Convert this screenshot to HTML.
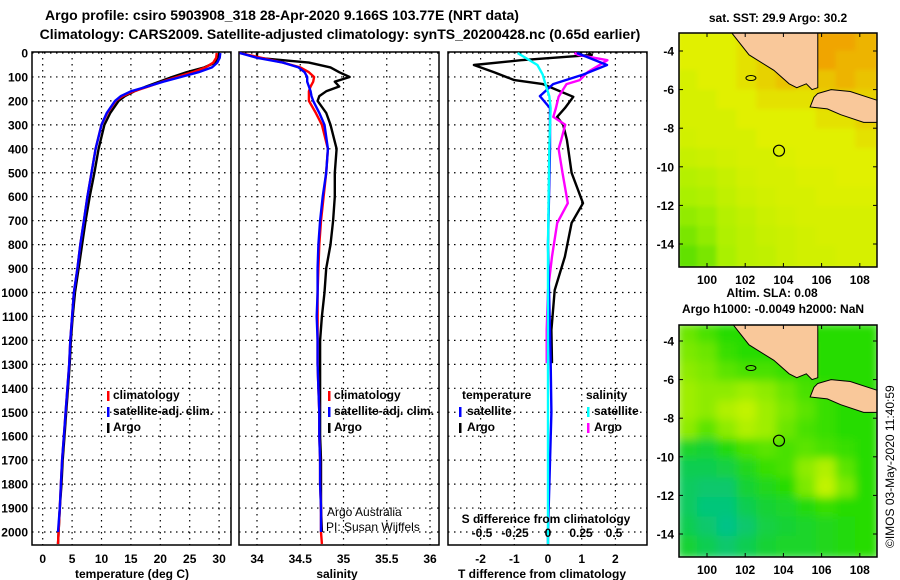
<!DOCTYPE html>
<html><head><meta charset="utf-8">
<style>
html,body{margin:0;padding:0;background:#fff;}
svg{display:block;font-family:"Liberation Sans",sans-serif;font-weight:bold;}
</style></head>
<body>
<svg id="fig" width="900" height="580" viewBox="0 0 900 580">
<text x="282" y="20" font-size="14" text-anchor="middle">Argo profile: csiro 5903908_318 28-Apr-2020 9.166S 103.77E (NRT data)</text>
<text x="340" y="39" font-size="14" text-anchor="middle">Climatology: CARS2009. Satellite-adjusted climatology: synTS_20200428.nc (0.65d earlier)</text>
<text x="778" y="22" font-size="12" text-anchor="middle">sat. SST: 29.9 Argo: 30.2</text>
<text x="772" y="297" font-size="12" text-anchor="middle">Altim. SLA: 0.08</text>
<text x="773" y="313" font-size="12" text-anchor="middle">Argo h1000: -0.0049 h2000: NaN</text>
<text x="0" y="0" font-size="12" font-weight="normal" transform="translate(894,548) rotate(-90)">©IMOS 03-May-2020 11:40:59</text>
<g id="plots"></g>
</svg>
<script>
// ---------- data ----------
const depths = [0,20,40,60,80,100,120,140,160,180,200,250,300,400,500,600,700,800,900,1000,1100,1200,1300,1400,1500,1600,1700,1800,1900,2000,2050];
const tempArgo = [30.0,29.9,29.3,27.5,24.5,22.0,19.8,17.6,15.6,14.0,12.9,11.5,10.5,9.5,8.8,8.0,7.3,6.7,6.1,5.5,5.1,4.8,4.6,4.3,4.0,3.7,3.4,3.2,2.9,2.7,2.6];
const tempClim = [29.6,29.5,29.0,27.7,25.5,22.8,20.3,18.0,15.5,13.6,12.4,11.0,10.0,9.0,8.3,7.6,7.0,6.4,5.9,5.3,5.0,4.7,4.5,4.2,3.9,3.6,3.3,3.1,2.9,2.7,2.6];
const tempSat = [30.2,30.1,29.7,28.8,26.5,23.5,20.5,17.8,15.0,13.3,12.3,10.9,10.0,9.0,8.3,7.6,7.0,6.4,5.9,5.3,5.0,4.7,4.5,4.2,3.9,3.6,3.3,3.1,2.9,2.6];
const salArgo = [34.0,34.0,34.6,34.85,34.95,35.07,34.9,34.95,34.8,34.72,34.7,34.8,34.85,34.92,34.9,34.9,34.88,34.85,34.8,34.78,34.75,34.73,34.73,34.73,34.73,34.73,34.74,34.74,34.74,34.75];
const salClim = [33.8,34.05,34.3,34.5,34.6,34.66,34.65,34.62,34.6,34.6,34.6,34.68,34.75,34.82,34.8,34.77,34.74,34.72,34.71,34.7,34.7,34.7,34.7,34.71,34.72,34.72,34.73,34.73,34.74,34.74,34.75];
const salSat = [33.8,34.0,34.3,34.48,34.55,34.58,34.58,34.6,34.62,34.63,34.65,34.72,34.78,34.82,34.8,34.76,34.73,34.71,34.7,34.7,34.69,34.7,34.7,34.71,34.72,34.72,34.73,34.73,34.74,34.74];
const diffDepth = [0,8,30,50,80,113,130,183,230,267,300,363,400,500,627,710,850,990,1157,1295];
const tDiffArgo = [1.2,1.3,-0.8,-2.2,-1.6,-1.0,-0.15,0.75,0.5,0.27,0.45,0.56,0.6,0.7,1.04,0.7,0.5,0.2,0.1,0.12];
const sDiffArgo = [0.2,0.23,0.45,0.39,0.3,0.24,0.14,0.08,0.06,0.04,0.13,0.1,0.08,0.11,0.15,0.07,0.03,0.0,-0.01,-0.01];
const satDepth = [0,50,90,130,180,230,400,800,1300,1500,2000,2050];
const tDiffSat = [0.86,1.75,1.04,0.15,-0.24,0.06,0.06,0.0,0.08,0.1,0.0,0.0];
const sDiffSat = [-0.23,-0.08,-0.04,-0.02,0.01,0.02,0.01,0.0,0.0,0.0,0.0,0.0];
const depthTicks = [0,100,200,300,400,500,600,700,800,900,1000,1100,1200,1300,1400,1500,1600,1700,1800,1900,2000];
const tempTicks = [0,5,10,15,20,25,30];
const salTicks = [34,34.5,35,35.5,36];
const tdTicks = [-2,-1,0,1,2];
const sdTicks = [-0.5,-0.25,0,0.25,0.5];
const lonTicks = [100,102,104,106,108];
const latTicks = [-4,-6,-8,-10,-12,-14];
const sstGrid = [
[1.0,1.0,1.0,1.1,1.2,1.3,1.3,1.5,1.5,1.4],
[1.0,1.0,1.0,1.1,1.2,1.3,1.3,1.5,1.4,1.4],
[0.9,1.0,1.0,1.1,1.2,1.3,1.2,1.3,1.4,1.3],
[0.9,0.9,1.0,1.0,1.1,1.1,1.1,1.2,1.2,1.2],
[0.9,0.9,0.9,1.0,1.0,1.0,1.0,1.1,1.1,1.2],
[0.85,0.9,0.9,0.9,1.0,1.0,1.0,1.0,1.0,1.1],
[0.75,0.8,0.85,0.9,0.9,0.95,1.0,1.0,1.0,1.0],
[0.6,0.65,0.75,0.85,0.9,0.9,0.95,0.95,1.0,1.0],
[0.5,0.55,0.7,0.8,0.85,0.9,0.9,0.95,0.95,0.95],
[0.4,0.45,0.6,0.7,0.8,0.85,0.9,0.9,0.9,0.9],
[0.3,0.4,0.55,0.65,0.75,0.8,0.85,0.9,0.9,0.9],
[0.2,0.3,0.5,0.65,0.7,0.8,0.85,0.85,0.9,0.9]];
const slaGrid = [
[0.7,0.6,0.5,0.5,0.5,0.5,0.5,0.5,0.5,0.5],
[0.75,0.7,0.55,0.5,0.5,0.5,0.55,0.5,0.5,0.5],
[0.8,0.75,0.65,0.6,0.6,0.55,0.55,0.5,0.5,0.5],
[0.85,0.8,0.8,0.85,0.8,0.7,0.6,0.55,0.5,0.5],
[0.85,0.8,0.9,0.95,0.85,0.75,0.65,0.55,0.5,0.5],
[0.8,0.65,0.8,0.9,0.85,0.7,0.6,0.55,0.5,0.5],
[0.35,0.3,0.45,0.6,0.65,0.6,0.65,0.6,0.55,0.5],
[0.2,0.2,0.25,0.4,0.55,0.6,0.8,0.9,0.65,0.5],
[0.15,0.1,0.1,0.3,0.4,0.5,0.75,0.95,0.75,0.5],
[0.15,0.05,0.05,0.2,0.3,0.35,0.45,0.55,0.5,0.5],
[0.2,0.1,0.0,0.1,0.25,0.3,0.35,0.4,0.45,0.5],
[0.3,0.2,0.1,0.2,0.3,0.35,0.35,0.4,0.45,0.5]];
const sumatra = [[101.3,-3.07],[105.8,-3.07],[105.8,-5.9],[105.5,-6.0],[105.2,-5.7],[104.7,-5.9],[104.3,-5.7],[103.5,-5.0],[102.2,-4.2]];
const java = [[105.8,-6.2],[106.5,-6.0],[107.5,-6.1],[109.05,-6.6],[109.05,-7.7],[108.2,-7.7],[107,-7.3],[106.3,-7.0],[105.4,-6.9],[105.6,-6.4]];
const argoPos = [103.77,-9.166];

// ---------- helpers ----------
const NS='http://www.w3.org/2000/svg';
const root=document.getElementById('plots');
function mk(tag,attrs,parent){const e=document.createElementNS(NS,tag);for(const k in attrs)e.setAttribute(k,attrs[k]);(parent||root).appendChild(e);return e;}
const Y0=53, YK=0.2395;
const yD = d => Y0 + d*YK;
const pTop=52, pBot=545;
const panels = [
 {x0:32,x1:231,f:v=>42.7+v*5.88},
 {x0:239,x1:439,f:v=>257+(v-34)*86.5},
 {x0:448,x1:647,f:v=>548+v*33.7}];
const sdX = v => 548 + v*132;

function grid(p,ticks,fx,showDepth){
  ticks.forEach(t=>{const x=fx(t);
    const l=mk('line',{x1:x,x2:x,y1:pTop,y2:pBot,stroke:'#000','stroke-dasharray':'1.5,4.5','stroke-width':1.2});
    
    });
  depthTicks.forEach(d=>{const y=yD(d);
    const l=mk('line',{x1:p.x0,x2:p.x1,y1:y,y2:y,stroke:'#000','stroke-dasharray':'1.5,4.5','stroke-width':1.2});
    
    
    if(showDepth){const t=mk('text',{x:28,y:y+4.5,'font-size':12,'text-anchor':'end'});t.textContent=d;
      
      }});
  const r=mk('rect',{x:p.x0,y:pTop,width:p.x1-p.x0,height:pBot-pTop,fill:'none',stroke:'#000','stroke-width':1.5});
  
  
}
function xlabels(ticks,fx,y,fmt){ticks.forEach(t=>{const e=mk('text',{x:fx(t),y:y,'font-size':12,'text-anchor':'middle'});e.textContent=fmt?fmt(t):t;
  
  });}
function line(vals,ds,fx,color,name,w){
  const pts=vals.map((v,i)=>fx(v).toFixed(1)+','+yD(ds[i]).toFixed(1)).join(' ');
  const e=mk('polyline',{points:pts,fill:'none',stroke:color,'stroke-width':w||2.4,'stroke-linejoin':'round'});
  
  
}
function txt(s,x,y,size,name,anchor,weight){const e=mk('text',{x:x,y:y,'font-size':size,'text-anchor':anchor||'start'});if(weight)e.setAttribute('font-weight',weight);e.textContent=s;
  
  return e;}
function mark(x,y,color){const e=mk('rect',{x:x,y:y,width:2.5,height:10,fill:color});
  
  }

// ---------- panel 1 temperature ----------
grid(panels[0],tempTicks,panels[0].f,true);
line(tempArgo,depths,panels[0].f,'#000','temp-argo-line');
line(tempClim,depths,panels[0].f,'#f00','temp-climatology-line');
line(tempSat,depths,panels[0].f,'#00f','temp-satellite-line');
xlabels(tempTicks,panels[0].f,563);
txt('temperature (deg C)',132,578,12,'temperature-axis-title','middle');
mark(107,391,'#f00');txt('climatology',113,399,12,'legend-climatology');
mark(107,407,'#00f');txt('satellite-adj. clim.',113,415,12,'legend-satellite-adj');
mark(107,423,'#000');txt('Argo',113,431,12,'legend-argo');

// ---------- panel 2 salinity ----------
grid(panels[1],salTicks,panels[1].f,false);
line(salArgo,depths,panels[1].f,'#000','salinity-argo-line');
line(salClim,depths,panels[1].f,'#f00','salinity-climatology-line');
line(salSat,depths,panels[1].f,'#00f','salinity-satellite-line');
xlabels(salTicks,panels[1].f,563);
txt('salinity',337,578,12,'salinity-axis-title','middle');
mark(328,391,'#f00');txt('climatology',334,399,12,'legend-climatology');
mark(328,407,'#00f');txt('satellite-adj. clim.',334,415,12,'legend-satellite-adj');
mark(328,423,'#000');txt('Argo',334,431,12,'legend-argo');
txt('Argo Australia',327,516,12,'credit-argo-australia','start','normal');
txt('PI: Susan Wijffels',326,531,12,'credit-pi','start','normal');

// ---------- panel 3 differences ----------
grid(panels[2],tdTicks,panels[2].f,false);
line(tDiffArgo,diffDepth,panels[2].f,'#000','t-diff-argo-line');
line(sDiffArgo,diffDepth,sdX,'#f0f','s-diff-argo-line');
line(tDiffSat,satDepth,panels[2].f,'#00f','t-diff-satellite-line');
line(sDiffSat,satDepth,sdX,'#0ff','s-diff-satellite-line');
xlabels(tdTicks,panels[2].f,563);
txt('T difference from climatology',542,578,12,'t-diff-axis-title','middle');
txt('S difference from climatology',546,523,12,'s-diff-axis-title','middle');
xlabels(sdTicks,sdX,537,t=>t===0?'0':String(t));
txt('temperature',462,399,12,'legend-temperature-header');
txt('salinity',586,399,12,'legend-salinity-header');
mark(459,407,'#00f');txt('satellite',467,415,12,'legend-t-satellite');
mark(459,423,'#000');txt('Argo',467,431,12,'legend-t-argo');
mark(587,407,'#0ff');txt('satellite',594,415,12,'legend-s-satellite');
mark(587,423,'#f0f');txt('Argo',594,431,12,'legend-s-argo');

// ---------- maps ----------
function lerpC(a,b,t){return 'rgb('+a.map((v,i)=>Math.round(v+(b[i]-v)*t)).join(',')+')';}
function sstColor(v){const G=[50,215,0],YG=[170,240,0],Y=[225,240,0],O=[240,165,0];
  if(v<0.5)return lerpC(G,YG,v/0.5); if(v<1)return lerpC(YG,Y,(v-0.5)/0.5); return lerpC(Y,O,Math.min(1,(v-1)/0.5));}
function slaColor(v){const T=[0,195,135],G=[40,220,0],Y=[210,245,0];
  if(v<0.5)return lerpC(T,G,v/0.5); return lerpC(G,Y,(v-0.5)/0.5);}
function drawMap(id,y0,y1,latRef,gridv,cf,name,blur){
  const x0=679,x1=877;
  const lonX=l=>707+(l-100)*19.1;
  const latY=l=>latRef+(-4-l)*19.3;
  const g=mk('g',{});
  
  
  const cp=mk('clipPath',{id:id+'clip'},g);
  mk('rect',{x:x0,y:y0,width:x1-x0,height:y1-y0},cp);
  if(blur){const f=mk('filter',{id:id+'blur'},g);mk('feGaussianBlur',{stdDeviation:blur},f);}
  const inner=mk('g',{'clip-path':'url(#'+id+'clip)'},g);
  const hg=mk('g',blur?{filter:'url(#'+id+'blur)'}:{},inner);
  const nr=gridv.length,nc=gridv[0].length;
  const cw=(x1-x0)/nc, ch=(y1-y0)/nr;
  gridv.forEach((row,r)=>row.forEach((v,c)=>{
    const e=mk('rect',{x:x0+c*cw-2,y:y0+r*ch-2,width:cw+4,height:ch+4,fill:cf(v)},hg);
    
    }));
  [sumatra,java].forEach((poly,i)=>{
    const e=mk('polygon',{points:poly.map(p=>lonX(p[0])+','+latY(p[1])).join(' '),fill:'#f9c89a',stroke:'#000','stroke-width':1},inner);
    
    });
  const isl=mk('ellipse',{cx:lonX(102.3),cy:latY(-5.4),rx:5,ry:2.5,fill:'none',stroke:'#000','stroke-width':1},inner);
  
  
  const c=mk('circle',{cx:lonX(argoPos[0]),cy:latY(argoPos[1]),r:5.5,fill:'none',stroke:'#000','stroke-width':1.2},g);
  
  
  const fr=mk('rect',{x:x0,y:y0,width:x1-x0,height:y1-y0,fill:'none',stroke:'#000','stroke-width':1.5},g);
  
  
  lonTicks.forEach(l=>{const x=lonX(l);
    mk('line',{x1:x,x2:x,y1:y0,y2:y0+4,stroke:'#000'},g);mk('line',{x1:x,x2:x,y1:y1,y2:y1-4,stroke:'#000'},g);
    const t=mk('text',{x:x,y:y1+17,'font-size':12,'text-anchor':'middle'},g);t.textContent=l;
    
    });
  latTicks.forEach(l=>{const y=latY(l);
    mk('line',{x1:x0,x2:x0+4,y1:y,y2:y,stroke:'#000'},g);mk('line',{x1:x1,x2:x1-4,y1:y,y2:y,stroke:'#000'},g);
    const t=mk('text',{x:x0-5,y:y+4.5,'font-size':12,'text-anchor':'end'},g);t.textContent=l;
    
    });
}
drawMap('sst',33,267,51,sstGrid,sstColor,'sst-map',2);
drawMap('sla',325,557,341,slaGrid,slaColor,'sla-map',4.5);
</script>
</body></html>
